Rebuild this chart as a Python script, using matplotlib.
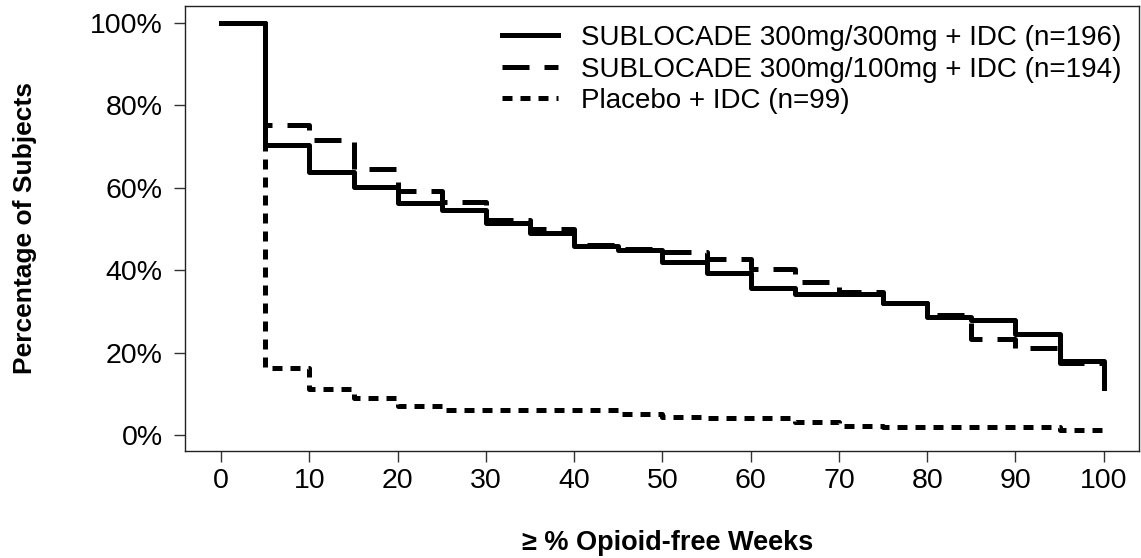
import numpy as np
import matplotlib
matplotlib.use("Agg")
import matplotlib.pyplot as plt

plt.rcParams['font.family'] = ['Liberation Sans', 'DejaVu Sans']

# % opioid-free weeks (step breakpoints)
weeks = [0, 5, 10, 15, 20, 25, 30, 35, 40, 45, 50,
         55, 60, 65, 70, 75, 80, 85, 90, 95, 100]

# percentage of subjects at or above each threshold
sub_300_300 = [100, 70.3, 63.8, 60.1, 56.4, 54.6, 51.4, 49.0, 45.8, 44.8, 41.9,
               39.2, 35.7, 34.2, 34.2, 31.9, 28.6, 28.0, 24.6, 18.0, 11.3]
sub_300_100 = [100, 75.3, 71.5, 64.6, 59.1, 56.6, 52.2, 50.0, 46.2, 45.2, 44.3,
               42.8, 40.2, 37.2, 34.6, 32.0, 29.0, 23.3, 21.0, 17.4, 17.0]
placebo = [100, 16.3, 11.2, 9.0, 7.1, 6.0, 6.0, 6.0, 6.0, 5.1, 4.3,
           4.1, 4.0, 3.1, 2.1, 2.0, 2.0, 2.0, 2.0, 1.1, 1.0]

labels = ["SUBLOCADE 300mg/300mg + IDC (n=196)",
          "SUBLOCADE 300mg/100mg + IDC (n=194)",
          "Placebo + IDC (n=99)"]

fig = plt.figure(figsize=(11.41, 5.58), dpi=100)
ax = fig.add_axes([185/1141, 1 - 451/558, 954/1141, 445/558])

lw = 3.6
ax.plot(weeks, placebo, drawstyle='steps-post', color='black', lw=lw,
        dashes=(2.0, 1.6), label=labels[2], zorder=2)
ax.plot(weeks, sub_300_100, drawstyle='steps-post', color='black', lw=lw,
        dashes=(5.4, 3.0), label=labels[1], zorder=3)
ax.plot(weeks, sub_300_300, drawstyle='steps-post', color='black', lw=lw,
        label=labels[0], zorder=4)

ax.set_xlim(-4.1, 104.0)
ax.set_ylim(-3.9, 104.1)
ax.set_xticks(np.arange(0, 101, 10))
ax.set_yticks(np.arange(0, 101, 20))
ax.set_yticklabels([f"{v}%" for v in range(0, 101, 20)])
ax.tick_params(axis='both', labelsize=20.5, length=8, width=1, color='#333333')
ax.tick_params(axis='y', pad=8)
ax.tick_params(axis='x', pad=4)
for sp in ax.spines.values():
    sp.set_linewidth(1.0)
    sp.set_color('#222222')

handles, labs = ax.get_legend_handles_labels()
order = [2, 1, 0]
ax.legend([handles[i] for i in order], [labs[i] for i in order],
          loc='upper left', bbox_to_anchor=((502 - 185) / 954, (451 - 25) / 445),
          frameon=False, fontsize=20, handlelength=2.0, handletextpad=0.86,
          labelspacing=0.2, borderpad=0, borderaxespad=0)

fig.text(25/1141, 1 - 228/558, "Percentage of Subjects", rotation=90,
         ha='center', va='center', fontsize=19, fontweight='bold')
fig.text(668/1141, 1 - 543/558, "\u2265 % Opioid-free Weeks",
         ha='center', va='center', fontsize=19.5, fontweight='bold')

fig.savefig("out.png", dpi=100)
